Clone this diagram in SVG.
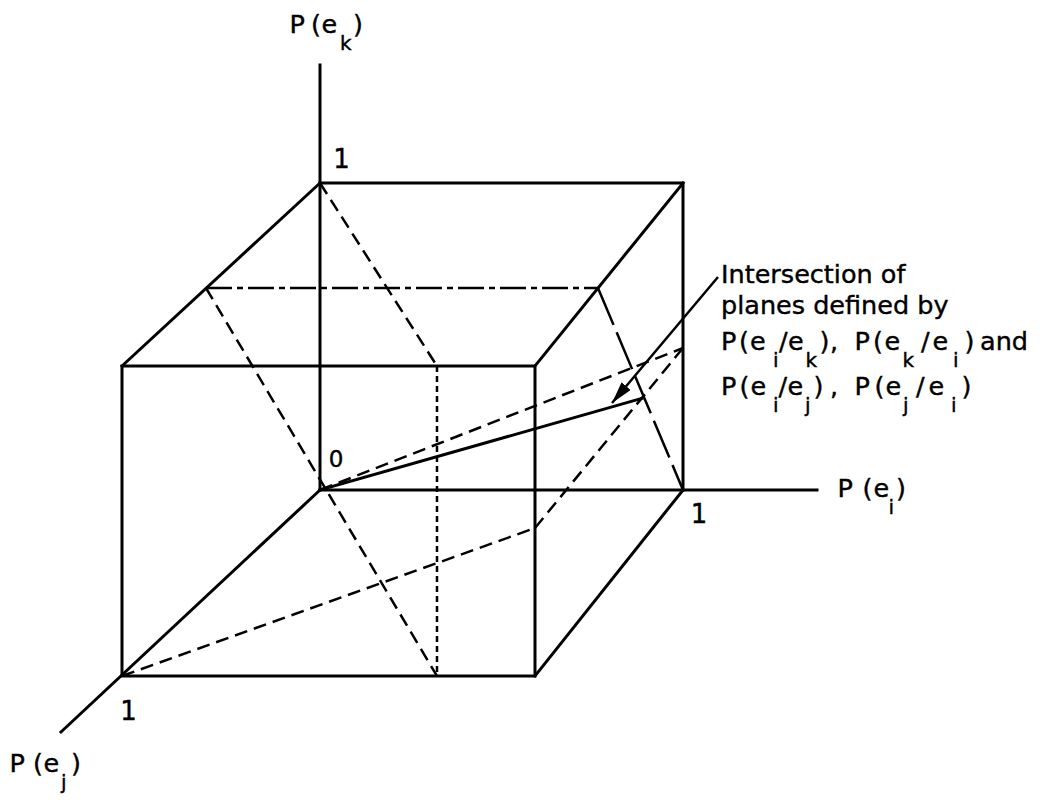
<svg xmlns="http://www.w3.org/2000/svg" width="1046" height="800" viewBox="0 0 1046 800">
<style>
.s{stroke:#000;stroke-width:3;fill:none;stroke-linecap:square}
.d{stroke:#000;stroke-width:2.5;fill:none;stroke-dasharray:13 7}
.dot{stroke:#000;stroke-width:2.5;fill:none;stroke-dasharray:6 4}
.dd{stroke:#000;stroke-width:2.5;fill:none;stroke-dasharray:26 5 6 5}
.ld{stroke:#000;stroke-width:2.5;fill:none;stroke-dasharray:40 8}
text{font-family:"DejaVu Sans","Liberation Sans",sans-serif;font-size:25.5px;fill:#000;stroke:#000;stroke-width:0.4}
.sub{font-size:20px}
.num{font-size:26px;text-anchor:middle}
</style>
<defs>
<marker id="ah" viewBox="0 0 22 12" refX="22" refY="6" markerWidth="22" markerHeight="12" markerUnits="userSpaceOnUse" orient="auto">
<path d="M0,0 L22,6 L0,12 z" fill="#000"/>
</marker>
</defs>
<rect width="1046" height="800" fill="#fff"/>
<g id="connectors">
<g id="axes">
<path class="s" d="M320,65 V490"/>
<path class="s" d="M320,490 H817"/>
<path class="s" d="M320,490 L61,732"/>
</g>
<g id="cube">
<path class="s" d="M320,183 H683 V490"/>
<path class="s" d="M320,183 L122,366"/>
<rect class="s" x="122" y="366" width="413" height="310"/>
<path class="s" d="M683,183 L535,366"/>
<path class="s" d="M683,490 L535,676"/>
</g>
<g id="planes">
<path class="d" d="M320,183 L437,366"/>
<path class="dot" d="M437,366 V676"/>
<path class="dd" d="M206,288 H598"/>
<path class="d" d="M206,288 L437,676"/>
<path class="d" d="M122,676 L535,528"/>
<path class="d" d="M535,528 L683,348"/>
<path class="d" d="M320,490 L683,348"/>
<path class="ld" d="M598,288 L683,490"/>
<path class="s" d="M320,490 L643,398"/>
</g>
<path id="leader" d="M718,277 L612,403" stroke="#000" stroke-width="2.5" fill="none" marker-end="url(#ah)"/>
</g>
<g id="label-k">
<text x="289.5" y="33">P</text><text x="311" y="33">(</text><text x="321.5" y="33">e</text><text class="sub" x="340" y="50">k</text><text x="353" y="33">)</text>
</g>
<g id="label-i">
<text x="837.5" y="497">P</text><text x="862.5" y="497">(</text><text x="873.5" y="497">e</text><text class="sub" x="888.5" y="514">i</text><text x="896" y="497">)</text>
</g>
<g id="label-j">
<text x="9.5" y="772">P</text><text x="33" y="772">(</text><text x="43.5" y="772">e</text><text class="sub" x="61" y="789">j</text><text x="71" y="772">)</text>
</g>
<g id="ticks">
<text class="num" x="341.5" y="168">1</text>
<text class="num" x="128.5" y="720">1</text>
<text class="num" x="699" y="523">1</text>
<text class="num" x="336" y="467" style="font-size:23px">0</text>
</g>
<g id="annotation">
<text x="721" y="283">Intersection of</text>
<text x="721" y="314">planes defined by</text>
<text x="721" y="350">P</text><text x="739" y="350">(</text><text x="750" y="350">e</text><text class="sub" x="773" y="367">i</text><text x="779" y="350">/</text><text x="788" y="350">e</text><text class="sub" x="805.5" y="367">k</text><text x="819.5" y="350">)</text><text x="830" y="350">,</text>
<text x="854.5" y="350">P</text><text x="873" y="350">(</text><text x="884.5" y="350">e</text><text class="sub" x="902.5" y="367">k</text><text x="921" y="350">/</text><text x="932.5" y="350">e</text><text class="sub" x="953" y="367">i</text><text x="964.5" y="350">)</text><text x="980" y="350">and</text>
<text x="721" y="395">P</text><text x="739.5" y="395">(</text><text x="750.5" y="395">e</text><text class="sub" x="773" y="412">i</text><text x="778.5" y="395">/</text><text x="787.5" y="395">e</text><text class="sub" x="805" y="412">j</text><text x="813.5" y="395">)</text><text x="830" y="395">,</text>
<text x="854.5" y="395">P</text><text x="874.5" y="395">(</text><text x="885.5" y="395">e</text><text class="sub" x="903" y="412">j</text><text x="916" y="395">/</text><text x="928.5" y="395">e</text><text class="sub" x="951" y="412">i</text><text x="961.5" y="395">)</text>
</g>
</svg>
